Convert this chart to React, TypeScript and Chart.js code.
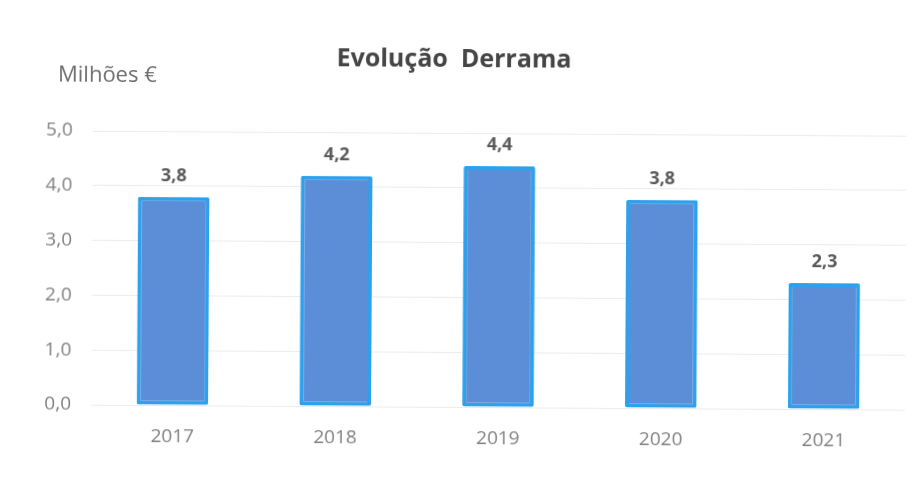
import React, { useEffect, useRef } from "react";
import { Chart, registerables } from "chart.js";

Chart.register(...registerables);

const categories = ["2017", "2018", "2019", "2020", "2021"];
const values = [3.8, 4.2, 4.4, 3.8, 2.3];
const yMin = 0;
const yMax = 5;
const yStep = 1;
const titleText = "Evolução  Derrama";
const unitText = "Milhões €";

const FONT = "'Open Sans', 'Noto Sans', sans-serif";

const fmt = (v: number) => v.toFixed(1).replace(".", ",");

const overlayPlugin = {
  id: "overlayLabels",
  afterDatasetsDraw(chart: any) {
    const ctx = chart.ctx;
    const meta = chart.getDatasetMeta(0);
    const area = chart.chartArea;
    ctx.save();
    ctx.font = `bold 18px ${FONT}`;
    ctx.fillStyle = "#595959";
    ctx.textAlign = "center";
    ctx.textBaseline = "alphabetic";
    meta.data.forEach((bar: any, i: number) => {
      ctx.fillText(fmt(values[i]), bar.x, bar.y - 16);
    });
    ctx.font = `22px ${FONT}`;
    ctx.fillStyle = "#6e6e6e";
    ctx.textAlign = "left";
    ctx.textBaseline = "middle";
    ctx.fillText(unitText, area.left - 35, area.top - 55);
    ctx.restore();
  },
};

export default function App() {
  const ref = useRef<HTMLCanvasElement | null>(null);

  useEffect(() => {
    if (!ref.current) return;
    const chart = new Chart(ref.current, {
      type: "bar",
      data: {
        labels: categories,
        datasets: [
          {
            data: values,
            backgroundColor: "#5B8ED6",
            borderColor: "#2EA0EC",
            borderWidth: 4,
            borderSkipped: false,
            borderRadius: 2,
            barPercentage: 0.44,
            categoryPercentage: 1,
          },
        ],
      },
      options: {
        animation: false,
        responsive: false,
        devicePixelRatio: 1,
        layout: { padding: { top: 45, right: 14, bottom: 0, left: 0 } },
        plugins: {
          legend: { display: false },
          tooltip: { enabled: false },
          title: {
            display: true,
            text: titleText,
            color: "#454545",
            font: { family: FONT, size: 25, weight: "bold", lineHeight: 1.2 },
            padding: { top: 0, bottom: 58 },
          },
        },
        scales: {
          x: {
            grid: { display: false, drawTicks: false },
            border: { display: false },
            ticks: {
              color: "#808080",
              font: { family: FONT, size: 19 },
              padding: 20,
            },
            afterFit(scale: any) {
              scale.height = 85;
            },
          },
          y: {
            min: yMin,
            max: yMax,
            grid: { color: "#ECECEC", lineWidth: 1, drawTicks: false },
            border: { display: false },
            ticks: {
              stepSize: yStep,
              color: "#808080",
              font: { family: FONT, size: 19 },
              padding: 20,
              callback: (v: any) => fmt(Number(v)),
            },
            afterFit(scale: any) {
              scale.width = 92;
            },
          },
        },
      },
      plugins: [overlayPlugin],
    });
    return () => chart.destroy();
  }, []);

  return (
    <div
      style={{
        position: "absolute",
        left: 0,
        top: 0,
        width: 920,
        height: 492,
        background: "#ffffff",
        overflow: "hidden",
      }}
    >
      <canvas
        ref={ref}
        width={920}
        height={492}
        style={{
          width: 920,
          height: 492,
          display: "block",
          transform: "rotate(0.35deg)",
        }}
      />
    </div>
  );
}
